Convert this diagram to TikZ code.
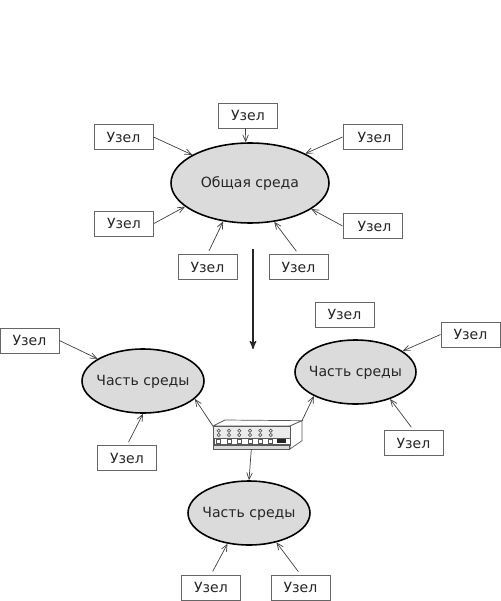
\documentclass[tikz,border=0pt]{standalone}
\usepackage{fontspec}
\setmainfont{DejaVu Sans}
\usetikzlibrary{arrows,shapes.geometric,positioning}
\tikzset{
  uzel/.style={draw=black!60,line width=0.5pt,fill=white,minimum width=1.18cm,minimum height=0.5cm,inner sep=0pt,text=black!85,font=\fontsize{8}{10}\selectfont},
  sreda/.style={ellipse,draw=black,line width=0.9pt,fill=black!14,inner sep=-12pt,text height=7pt,text depth=1.4pt,text=black!85,font=\fontsize{8}{10}\selectfont},
  link/.style={->,>=angle 45,draw=black!75,line width=0.4pt},
  swpart/.style={draw=black!65,line width=0.3pt,fill=white,inner sep=0pt}
}
\begin{document}
\begin{tikzpicture}[x=0.02cm,y=-0.02cm]
\useasboundingbox (0,0) rectangle (500,601);

% shared medium
\node[sreda,minimum width=3.16cm,minimum height=1.6cm] (main) at (250,183) {Общая среда};
\node[uzel] (top) at (248,115.5) {Узел};
\node[uzel] (tl) at (123.5,137) {Узел};
\node[uzel] (tr) at (372.5,137) {\hspace{0.08cm}Узел};
\node[uzel] (ml) at (124,223.5) {Узел};
\node[uzel] (mr) at (372.5,226) {\hspace{0.08cm}Узел};
\node[uzel] (bl) at (207.5,267) {Узел};
\node[uzel] (br) at (298.5,267) {Узел};

\draw[link] (top.259) -- (main.96);
\draw[link] (tl.east) -- (main.154);
\draw[link] (tr.west) -- (main.28);
\draw[link] (ml.east) -- (main.200);
\draw[link] (mr.west) -- (main.337);
\draw[link,shorten <=2pt] (bl.north) -- (main.235);
\draw[link,shorten <=2pt] (br.north) -- (main.302);

% long arrow
\coordinate (from) at (253,249);
\coordinate (to) at (253,349);
\draw[->,>=stealth',line width=0.7pt,black!85] (from) -- (to);

% segments
\node[sreda,minimum width=2.44cm,minimum height=1.28cm] (segl) at (143,381) {Часть среды};
\node[sreda,minimum width=2.42cm,minimum height=1.28cm] (segr) at (355.5,372) {Часть среды};
\node[sreda,minimum width=2.44cm,minimum height=1.28cm] (segb) at (249,513) {Часть среды};

\node[uzel] (n1) at (29.5,340.5) {Узел};
\node[uzel] (n2) at (127,458) {Узел};
\node[uzel] (n3) at (344.5,314.5) {Узел};
\node[uzel] (n4) at (470.5,334.5) {Узел};
\node[uzel] (n5) at (413.5,443) {Узел};
\node[uzel] (n6) at (211,587.5) {Узел};
\node[uzel] (n7) at (300.5,587.5) {Узел};

\draw[link] (n1.east) -- (segl.154);
\draw[link,shorten <=2pt] (n2.north) -- (segl.270);
\draw[link] (n4.west) -- (segr.24);
\draw[link,shorten <=2pt] (n5.north) -- (segr.322);
\draw[link,shorten <=2pt] (n6.north) -- (segb.235);
\draw[link,shorten <=2pt] (n7.north) -- (segb.313);

% switch
\fill[white,draw=black!65,line width=0.4pt] (213,426) -- (225,420) -- (302,420.7) -- (290,426) -- cycle;
\fill[white,draw=black!65,line width=0.4pt] (290,426) -- (302,420.7) -- (302,440.7) -- (290,449) -- cycle;
\node[swpart,fill=black!8,minimum width=1.54cm,minimum height=0.38cm] (swfront) at (251.5,435.5) {};
\node[swpart,fill=black!15,minimum width=1.53cm,minimum height=0.08cm] (swbase) at (251.3,447) {};
\draw[black!65,line width=0.4pt,fill=white] (214,438) rectangle (290,444);
\foreach \x in {218.7,229,239.3,250,260.3,270.7}{
  \draw[black!65,line width=0.4pt,fill=white] (\x,430.7) circle (1.6);
  \draw[black!65,line width=0.4pt,fill=white] (\x,435) circle (1.6);
  \draw[black!65,line width=0.4pt] (\x-2,439) rectangle (\x+2,443);
}
\fill[black!85] (277,439.3) rectangle (286,442.7);
\coordinate (swback) at (302,420.7);

\draw[link] (swfront.north west) -- (segl.341);
\draw[link] (swback) -- (segr.210);
\draw[link] (swbase.south) -- (segb.north);
\end{tikzpicture}
\end{document}
